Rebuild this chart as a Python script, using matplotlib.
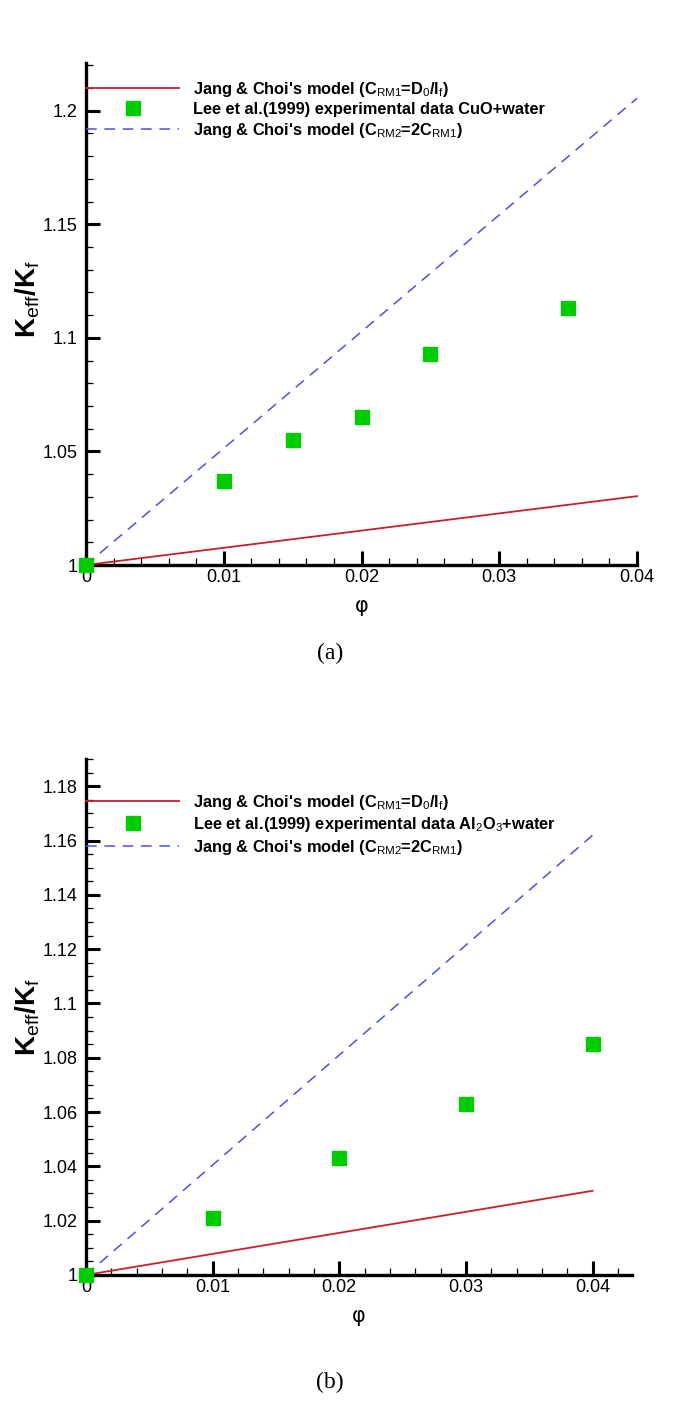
import matplotlib
matplotlib.use("Agg")
import matplotlib.pyplot as plt
from matplotlib.ticker import MultipleLocator, FixedLocator, FixedFormatter


# =========================
# 1. Data
# =========================

# panel (a): CuO + water
phi_a = [0.0, 0.01, 0.015, 0.02, 0.025, 0.035]
keff_a = [1.0, 1.037, 1.055, 1.065, 1.093, 1.113]
model_x_a = [0.0, 0.04]
model1_a = [1.0, 1.0303]
model2_a = [1.0, 1.2055]

# panel (b): Al2O3 + water
phi_b = [0.0, 0.01, 0.02, 0.03, 0.04]
keff_b = [1.0, 1.021, 1.043, 1.063, 1.085]
model_x_b = [0.0, 0.04]
model1_b = [1.0, 1.031]
model2_b = [1.0, 1.162]

xticks_a = [0.0, 0.01, 0.02, 0.03, 0.04]
xlabels_a = ["0", "0.01", "0.02", "0.03", "0.04"]
yticks_a = [1.0, 1.05, 1.1, 1.15, 1.2]
ylabels_a = ["1", "1.05", "1.1", "1.15", "1.2"]

xticks_b = [0.0, 0.01, 0.02, 0.03, 0.04]
xlabels_b = ["0", "0.01", "0.02", "0.03", "0.04"]
yticks_b = [1.0, 1.02, 1.04, 1.06, 1.08, 1.1, 1.12, 1.14, 1.16, 1.18]
ylabels_b = ["1", "1.02", "1.04", "1.06", "1.08", "1.1", "1.12", "1.14", "1.16", "1.18"]

label_m1 = r"Jang & Choi's model (C$_{\mathrm{RM1}}$=D$_{\mathrm{0}}$/l$_{\mathrm{f}}$)"
label_m2 = r"Jang & Choi's model (C$_{\mathrm{RM2}}$=2C$_{\mathrm{RM1}}$)"
label_exp_a = "Lee et al.(1999) experimental data CuO+water"
label_exp_b = r"Lee et al.(1999) experimental data Al$_{\mathrm{2}}$O$_{\mathrm{3}}$+water"


# =========================
# 2. Style
# =========================

SANS = ["Liberation Sans", "DejaVu Sans"]
plt.rcParams["font.family"] = SANS
plt.rcParams["mathtext.fontset"] = "custom"
plt.rcParams["mathtext.rm"] = "Liberation Sans"
plt.rcParams["mathtext.bf"] = "Liberation Sans:bold"

RED = "#c8202a"
GREEN = "#00cc00"
BLUE = "#5050e0"


def style_axes(ax, xlim, ylim, xt, xl, yt, yl, ymin_step, ylab_y):
    ax.set_xlim(*xlim)
    ax.set_ylim(*ylim)
    for side in ["top", "right"]:
        ax.spines[side].set_visible(False)
    for side in ["left", "bottom"]:
        ax.spines[side].set_linewidth(2.4)
    ax.xaxis.set_major_locator(FixedLocator(xt))
    ax.xaxis.set_major_formatter(FixedFormatter(xl))
    ax.yaxis.set_major_locator(FixedLocator(yt))
    ax.yaxis.set_major_formatter(FixedFormatter(yl))
    ax.xaxis.set_minor_locator(MultipleLocator(0.002))
    ax.yaxis.set_minor_locator(MultipleLocator(ymin_step))
    ax.tick_params(which="major", direction="in", length=10, width=2.2,
                   labelsize=13)
    ax.tick_params(axis="x", which="major", pad=3)
    ax.tick_params(axis="y", which="major", pad=6)
    ax.tick_params(which="minor", direction="in", length=5, width=0.9)
    ax.set_xlabel("φ", fontsize=15, family="DejaVu Sans", labelpad=7)
    ax.set_ylabel(r"$\mathbf{K}_{\mathrm{eff}}\mathbf{/K}_{\mathrm{f}}$",
                  fontsize=20)
    ax.yaxis.set_label_coords(-0.08, ylab_y)


def draw_panel(ax, mx, m1, m2, px, py, exp_label):
    ax.plot(mx, m1, color=RED, lw=1.3, label=label_m1, clip_on=False, zorder=3)
    ax.plot(px, py, "s", color=GREEN, ms=10, label=exp_label,
            clip_on=False, zorder=4)
    ax.plot(mx, m2, color=BLUE, lw=1.1, dashes=(7, 5), label=label_m2,
            clip_on=False, zorder=3)


def add_legend(ax, top):
    ax.legend(loc="upper left", bbox_to_anchor=(0.0, top), frameon=False,
              borderpad=0, borderaxespad=0, handlelength=5.7,
              handletextpad=0.85, labelspacing=0.22,
              prop={"family": SANS, "weight": "bold", "size": 11.8})


# =========================
# 3. Figure
# =========================

fig = plt.figure(figsize=(6.85, 14.25), dpi=100)

ax_a = fig.add_axes([0.1255, 0.6035, 0.8045, 0.3523])
draw_panel(ax_a, model_x_a, model1_a, model2_a, phi_a, keff_a, label_exp_a)
style_axes(ax_a, (0, 0.04), (1.0, 1.221), xticks_a, xlabels_a,
           yticks_a, ylabels_a, 0.01, 0.53)
add_legend(ax_a, 0.967)

ax_b = fig.add_axes([0.1255, 0.1053, 0.797, 0.362])
draw_panel(ax_b, model_x_b, model1_b, model2_b, phi_b, keff_b, label_exp_b)
style_axes(ax_b, (0, 0.0431), (1.0, 1.19), xticks_b, xlabels_b,
           yticks_b, ylabels_b, 0.005, 0.5)
add_legend(ax_b, 0.935)

fig.text(0.482, 1 - 653 / 1425, "(a)", ha="center", va="center",
         family="Liberation Serif", fontsize=17)
fig.text(0.482, 1 - 1382 / 1425, "(b)", ha="center", va="center",
         family="Liberation Serif", fontsize=17)

fig.savefig("out.png", dpi=100)
